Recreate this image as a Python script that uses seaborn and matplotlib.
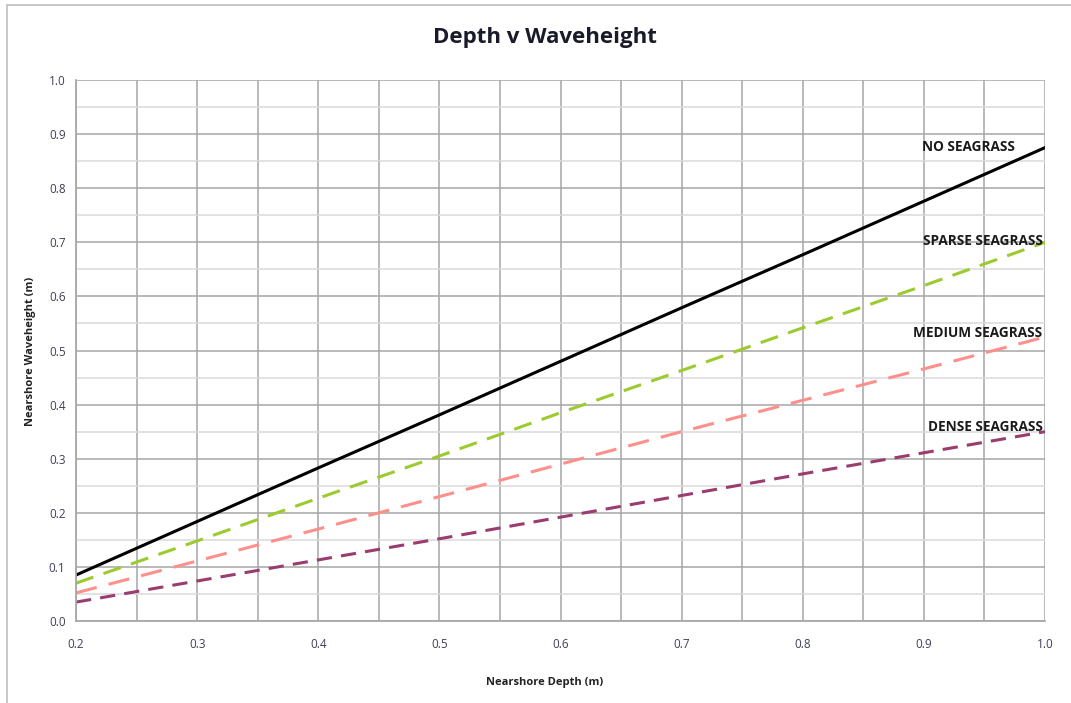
import matplotlib
matplotlib.use("Agg")
import matplotlib.pyplot as plt
import numpy as np
import pandas as pd
import seaborn as sns
from matplotlib.patches import Rectangle
from matplotlib.ticker import MultipleLocator, FormatStrFormatter

depth = [0.2, 0.3, 0.4, 0.5, 0.6, 0.7, 0.8, 0.9, 1.0]
no_seagrass = [0.085, 0.184, 0.283, 0.381, 0.480, 0.579, 0.677, 0.776, 0.875]
sparse_seagrass = [0.070, 0.148, 0.227, 0.305, 0.385, 0.463, 0.542, 0.620, 0.700]
medium_seagrass = [0.052, 0.111, 0.170, 0.230, 0.290, 0.350, 0.408, 0.466, 0.525]
dense_seagrass = [0.035, 0.074, 0.113, 0.152, 0.192, 0.232, 0.272, 0.311, 0.350]

series_names = ["NO SEAGRASS", "SPARSE SEAGRASS", "MEDIUM SEAGRASS", "DENSE SEAGRASS"]

df = pd.DataFrame({
    "depth": depth * 4,
    "wave": no_seagrass + sparse_seagrass + medium_seagrass + dense_seagrass,
    "series": sum([[n] * len(depth) for n in series_names], []),
})

sns.set_theme(style="white")
plt.rcParams["font.family"] = ["Open Sans", "DejaVu Sans"]

colors = {"NO SEAGRASS": "#000000", "SPARSE SEAGRASS": "#9BCB2F",
          "MEDIUM SEAGRASS": "#FF8F8A", "DENSE SEAGRASS": "#9A3D6E"}
dashes = {"NO SEAGRASS": "", "SPARSE SEAGRASS": (6, 3.5),
          "MEDIUM SEAGRASS": (7, 4), "DENSE SEAGRASS": (5, 3)}

fig = plt.figure(figsize=(10.71, 7.03), dpi=100)
ax = fig.add_axes([0.071, 0.1166, 0.9047, 0.7696])

ax.xaxis.set_major_locator(MultipleLocator(0.1))
ax.xaxis.set_minor_locator(MultipleLocator(0.05))
ax.yaxis.set_major_locator(MultipleLocator(0.1))
ax.yaxis.set_minor_locator(MultipleLocator(0.05))
ax.grid(which="major", axis="both", color="#A6A6A6", lw=1.1)
ax.grid(which="minor", axis="x", color="#A6A6A6", lw=1.1)
ax.grid(which="minor", axis="y", color="#DADADA", lw=1.1)
ax.set_axisbelow(True)

sns.lineplot(data=df, x="depth", y="wave", hue="series", style="series",
             palette=colors, dashes=dashes, linewidth=2.2, legend=False, ax=ax)

ax.set_xlim(0.2, 1.0)
ax.set_ylim(0.0, 1.0)
ax.xaxis.set_major_formatter(FormatStrFormatter("%.1f"))
ax.yaxis.set_major_formatter(FormatStrFormatter("%.1f"))
ax.tick_params(which="major", length=4, width=1, color="#A6A6A6",
               labelsize=8.5, labelcolor="#3F3F5A", direction="out")
ax.tick_params(which="minor", length=0)
ax.tick_params(axis="x", pad=8)
for s in ax.spines.values():
    s.set_visible(False)
for side in ("left", "bottom"):
    ax.spines[side].set_visible(True)
    ax.spines[side].set_color("#A6A6A6")

ax.set_xlabel("")
ax.set_ylabel("")
fig.text(545 / 1071, 1 - 683 / 703, "Nearshore Depth (m)", ha="center",
         va="center", fontsize=8, fontweight="bold", color="#222222")
fig.text(31 / 1071, 1 - 351 / 703, "Nearshore Waveheight (m)", ha="center",
         va="center", rotation=90, fontsize=8, fontweight="bold", color="#222222")
fig.text(545 / 1071, 1 - 38 / 703, "Depth v Waveheight", ha="center",
         va="center", fontsize=16, fontweight="bold", color="#1a1a2a")

label_pos = {"NO SEAGRASS": (0.975, 0.876), "SPARSE SEAGRASS": (0.998, 0.703),
             "MEDIUM SEAGRASS": (0.998, 0.533), "DENSE SEAGRASS": (0.998, 0.359)}
for name, (lx, ly) in label_pos.items():
    ax.text(lx, ly, name, ha="right", va="center", fontsize=9.8,
            fontweight="bold", color="#1a1a1a")

fig.patches.append(Rectangle((7 / 1071, -0.1), 1.2, 1 - 5 / 703 + 0.1,
                             transform=fig.transFigure, fill=False,
                             edgecolor="#BFBFBF", lw=1.2))

fig.savefig("out.png", dpi=100)
